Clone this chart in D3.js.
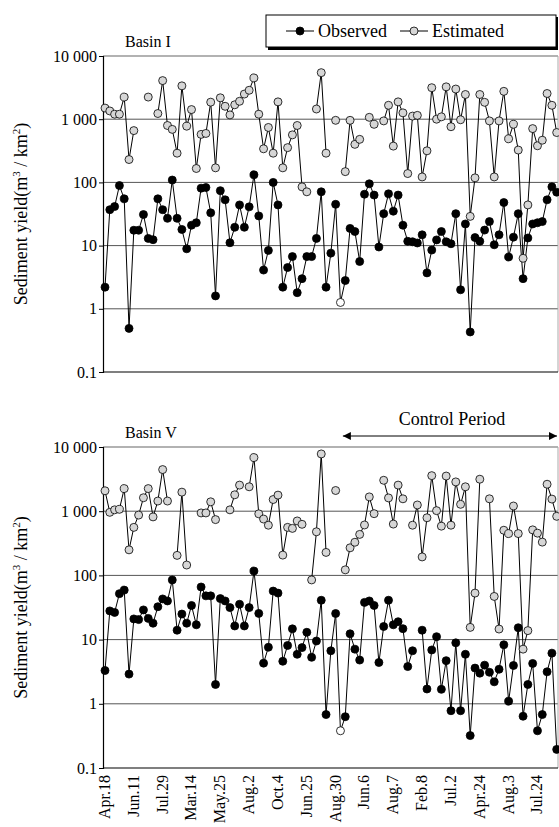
<!DOCTYPE html>
<html><head><meta charset="utf-8">
<script src="https://cdn.jsdelivr.net/npm/d3@7"></script>
<style>
body{margin:0;background:#fff}
svg text{font-family:"Liberation Serif","Times New Roman",serif;}
</style>
</head><body>
<svg id="chart" width="559" height="827"></svg>
<script>
// ---------- DATA ----------
const tickLabels = ["Apr.18","Jun.11","Jul.29","Mar.14","May.25","Aug.2","Oct.4","Jun.25","Aug.30","Jun.6","Aug.7","Feb.8","Jul.2","Apr.24","Aug.3","Jul.24"];
const yTicks = [0.1, 1, 10, 100, 1000, 10000];
const seriesNames = ["Observed", "Estimated"];

// Basin I
const obsI = [2.2,37,41.5,89,55,0.49,17.5,17.5,31,13,
  12.4,55,37,27,109,27,18,8.9,21,23,
  81,83,33,1.6,74,53,11.1,19.5,44,19.5,
  41,132,29.5,4.1,8.4,100,44,2.2,4.5,6.7,
  1.8,3.0,6.7,6.7,13,71,2.2,7.6,45,1.26,
  2.8,18.7,16.7,5.6,65,95,63,9.5,32,66,
  35,63,21,11.7,11.5,11,14.8,3.7,8.5,12.3,
  16.7,11.5,10.7,32,2.0,22,0.43,13.4,11.7,17.6,
  24,10.3,14.8,48,6.6,13.6,32,3.0,13.2,22,
  23,24,53,85,70];
const estI = [1500,1350,1200,1200,2240,230,660,null,null,2240,
  null,1230,4080,795,690,290,3370,775,1420,166,
  575,595,1860,170,2180,1600,1170,1690,1920,2500,
  2870,4500,1200,340,740,290,1880,170,355,565,
  795,85,71,null,1450,5450,290,null,960,null,
  148,960,400,480,null,1070,830,null,940,1660,
  375,1880,1260,138,1120,1150,122,316,3150,1000,
  1090,3250,760,3000,980,2460,29,118,2460,1850,
  940,122,940,2760,490,830,325,6.3,44,710,
  380,465,2550,1660,615];
const openObsI = [49];

// Basin V
const obsV = [3.3,28,26.5,52,59,2.9,21,20.5,29,21.4,
  18,32.5,43,40,85,14,25,18,34,17,
  66,48,48,2.0,43.5,40,31.5,16.3,35.5,16.3,
  31.5,117,25.6,4.3,7.6,57,53,4.6,8.1,14.7,
  5.9,7.5,13,5.3,9.5,41,0.68,6.7,25.5,0.38,
  0.63,12.3,7.1,4.8,38,40,34,4.4,16,41,
  17,19,14.8,3.8,6.7,null,14,1.7,6.9,11.1,
  1.68,4.7,0.78,8.9,0.78,5.9,0.32,3.6,3.0,4.0,
  3.1,2.2,3.45,8.3,1.1,3.95,15.3,0.64,2.0,4.25,
  0.38,0.68,3.15,6.15,0.195];
const estV = [2080,960,1050,1070,2250,250,560,870,1620,2250,
  815,1440,4450,1440,null,205,1980,145,null,null,
  940,940,1400,740,null,null,1050,1800,2550,null,
  2400,6850,910,755,605,1520,1780,207,560,540,
  705,625,null,85,478,7800,228,null,2100,null,
  122,269,328,435,610,1670,915,null,3030,1610,
  630,2550,1560,null,605,1250,194,790,3580,1020,
  585,3530,605,2860,1280,2400,15.5,53,3150,null,
  1560,47,14.6,505,448,1205,448,7.1,13.8,512,
  455,330,2630,1545,832];
const openObsV = [49];

const controlStart = 49.5; // index position where the control-period arrow starts

// ---------- LAYOUT ----------
const svg = d3.select("#chart");
const plotL = 103, plotR = 558;
const n = obsI.length;
const x = d3.scaleLinear().domain([0, n - 1]).range([105, 556.7]);
const serif = "Liberation Serif";
const estFill = "#d6d6d6";

function fmt(v){
  if (v >= 1000) return d3.format(",")(v).replace(/,/g, " ");
  return String(v);
}

function panel(top, bottom, obs, est, openIdx, title){
  const y = d3.scaleLog().domain([0.1, 10000]).range([bottom, top]);
  const g = svg.append("g");

  g.selectAll("line.grid").data(yTicks.filter(t => t > 0.1 && t < 10000)).enter()
    .append("line").attr("x1", plotL).attr("x2", plotR)
    .attr("y1", d => y(d)).attr("y2", d => y(d))
    .attr("stroke", "#555").attr("stroke-width", 1);
  g.append("line").attr("x1", plotL).attr("x2", plotR).attr("y1", y(10000)).attr("y2", y(10000))
    .attr("stroke", "#999").attr("stroke-width", 1.6);
  g.append("line").attr("x1", plotR).attr("x2", plotR).attr("y1", top).attr("y2", bottom)
    .attr("stroke", "#aaa").attr("stroke-width", 1);

  const ya = g.append("g").attr("transform", `translate(${plotL},0)`)
    .call(d3.axisLeft(y).tickValues(yTicks).tickFormat(fmt).tickSize(4).tickPadding(2));
  ya.attr("font-family", serif).attr("font-size", 16);
  ya.select(".domain").attr("stroke", "#000").attr("stroke-width", 1.2);
  ya.selectAll("text").attr("fill", "#000");

  g.append("line").attr("x1", plotL).attr("x2", plotR).attr("y1", bottom).attr("y2", bottom)
    .attr("stroke", "#000").attr("stroke-width", 1.2);

  const line = d3.line().defined(d => d != null).x((d, i) => x(i)).y(d => y(d));
  g.append("path").datum(obs).attr("d", line).attr("fill", "none").attr("stroke", "#000").attr("stroke-width", 1);
  g.append("path").datum(est).attr("d", line).attr("fill", "none").attr("stroke", "#000").attr("stroke-width", 1);

  const obsPts = obs.map((v, i) => ({v, i})).filter(d => d.v != null);
  const estPts = est.map((v, i) => ({v, i})).filter(d => d.v != null);
  g.selectAll("circle.obs").data(obsPts).enter().append("circle")
    .attr("cx", d => x(d.i)).attr("cy", d => y(d.v)).attr("r", 4)
    .attr("fill", d => openIdx.includes(d.i) ? "#fff" : "#000")
    .attr("stroke", "#000").attr("stroke-width", 0.8);
  g.selectAll("circle.est").data(estPts).enter().append("circle")
    .attr("cx", d => x(d.i)).attr("cy", d => y(d.v)).attr("r", 4)
    .attr("fill", estFill).attr("stroke", "#000").attr("stroke-width", 0.8);

  g.append("text").attr("x", 125).attr("y", top - 9).text(title)
    .attr("font-family", serif).attr("font-size", 16);

  const yt = g.append("text")
    .attr("transform", `translate(27,${(top + bottom) / 2}) rotate(-90)`)
    .attr("text-anchor", "middle").attr("font-family", serif).attr("font-size", 18);
  yt.append("tspan").text("Sediment yield(m");
  yt.append("tspan").text("3").attr("font-size", 11).attr("dy", -7);
  yt.append("tspan").text(" / km").attr("dy", 7);
  yt.append("tspan").text("2").attr("font-size", 11).attr("dy", -7);
  yt.append("tspan").text(")").attr("dy", 7);
  return y;
}

panel(56, 372, obsI, estI, openObsI, "Basin I");
panel(447, 768, obsV, estV, openObsV, "Basin V");

const labelIdx = tickLabels.map((t, k) => k * 6);
svg.append("g").selectAll("text").data(tickLabels).enter().append("text")
  .attr("transform", (d, k) => `translate(${x(labelIdx[k]) + 5},775) rotate(-90)`)
  .attr("text-anchor", "end").attr("font-family", serif).attr("font-size", 16)
  .text(d => d);

const cp = svg.append("g");
const cx0 = x(controlStart), cx1 = plotR - 1, cy = 436;
svg.append("defs").html(`<marker id="ah" viewBox="0 0 10 10" refX="10" refY="5" markerWidth="14" markerHeight="8" markerUnits="userSpaceOnUse" orient="auto-start-reverse"><path d="M0,0 L10,5 L0,10 z" fill="#000"/></marker>`);
cp.append("line").attr("x1", cx0).attr("x2", cx1).attr("y1", cy).attr("y2", cy)
  .attr("stroke", "#000").attr("stroke-width", 1)
  .attr("marker-start", "url(#ah)").attr("marker-end", "url(#ah)");
cp.append("text").attr("x", 452).attr("y", 425).attr("text-anchor", "middle")
  .attr("font-family", serif).attr("font-size", 18).text("Control Period");

const lg = svg.append("g");
lg.append("rect").attr("x", 268).attr("y", 17).attr("width", 290).attr("height", 33).attr("fill", "#000");
lg.append("rect").attr("x", 266).attr("y", 15).attr("width", 290).attr("height", 32)
  .attr("fill", "#fff").attr("stroke", "#000").attr("stroke-width", 1);
const items = [{name: seriesNames[0], fill: "#000", x: 286}, {name: seriesNames[1], fill: estFill, x: 400}];
items.forEach(it => {
  lg.append("line").attr("x1", it.x).attr("x2", it.x + 28).attr("y1", 31).attr("y2", 31).attr("stroke", "#000");
  lg.append("circle").attr("cx", it.x + 14).attr("cy", 31).attr("r", 4).attr("fill", it.fill).attr("stroke", "#000").attr("stroke-width", 0.8);
  lg.append("text").attr("x", it.x + 32).attr("y", 37).attr("font-family", serif).attr("font-size", 18).text(it.name);
});
</script>
</body></html>
